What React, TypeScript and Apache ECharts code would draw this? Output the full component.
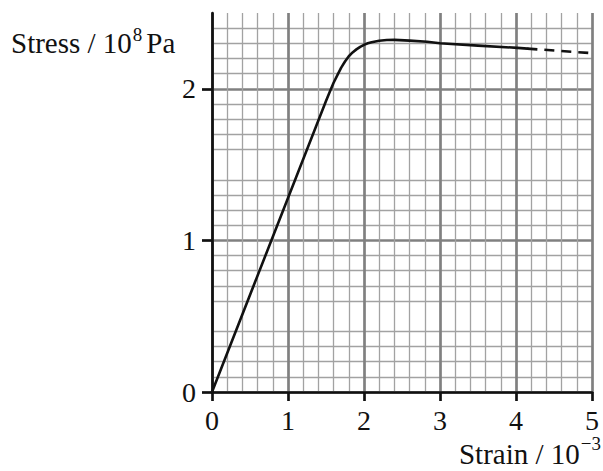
import React, { useEffect, useRef } from "react";
import * as echarts from "echarts";

// ---- data ----
const strainSolid = [0, 1.5, 1.55, 1.6, 1.65, 1.7, 1.75, 1.8, 1.85, 1.9, 1.95, 2.0, 2.05, 2.1, 2.2, 2.3, 2.4, 2.6, 2.83, 3.0, 3.5, 4.02, 4.15];
const stressSolid = [0, 1.92, 1.98, 2.04, 2.09, 2.14, 2.18, 2.215, 2.24, 2.26, 2.277, 2.29, 2.3, 2.307, 2.317, 2.322, 2.323, 2.318, 2.31, 2.3, 2.285, 2.27, 2.265];
const strainDashed = [4.15, 5];
const stressDashed = [2.265, 2.235];
const yTickValues = [0, 1, 2];
const xTickValues = [0, 1, 2, 3, 4, 5];

const FONT = '"Liberation Serif", "DejaVu Serif", serif';

export default function App() {
  const ref = useRef<HTMLDivElement>(null);
  useEffect(() => {
    if (!ref.current) return;
    const chart = echarts.init(ref.current, null, { renderer: "svg" });
    const solid = strainSolid.map((x, i) => [x, stressSolid[i]]);
    const dashed = strainDashed.map((x, i) => [x, stressDashed[i]]);
    const major = { color: "#808080", width: 2.7 };
    const minor = { color: "#a2a2a2", width: 1.3 };
    chart.setOption({
      animation: false,
      backgroundColor: "#ffffff",
      grid: { left: 212, right: 11, top: 13, bottom: 79, containLabel: false },
      xAxis: {
        type: "value",
        min: 0,
        max: 5,
        interval: 1,
        axisLine: { show: true, onZero: false, lineStyle: { color: "#111", width: 2.7 } },
        axisTick: { show: true, length: 9, inside: false, lineStyle: { color: "#111", width: 2.7 }, customValues: xTickValues },
        axisLabel: { show: true, margin: 14, color: "#111", fontSize: 28, fontFamily: FONT, customValues: xTickValues },
        splitLine: { show: true, lineStyle: major },
        minorTick: { show: false, splitNumber: 5 },
        minorSplitLine: { show: true, lineStyle: minor },
      },
      yAxis: {
        type: "value",
        min: 0,
        max: 2.5,
        interval: 0.5,
        axisLine: { show: true, onZero: false, lineStyle: { color: "#111", width: 2.7 } },
        axisTick: { show: true, length: 10, inside: false, lineStyle: { color: "#111", width: 2.7 }, customValues: yTickValues },
        axisLabel: { show: true, margin: 16, color: "#111", fontSize: 28, fontFamily: FONT, customValues: yTickValues },
        splitLine: { show: true, lineStyle: major },
        minorTick: { show: false, splitNumber: 5 },
        minorSplitLine: { show: true, lineStyle: minor },
      },
      series: [
        {
          type: "line",
          data: solid,
          smooth: false,
          showSymbol: false,
          symbol: "none",
          lineStyle: { color: "#111", width: 2.6, join: "round", cap: "round" },
          z: 5,
        },
        {
          type: "line",
          data: dashed,
          showSymbol: false,
          symbol: "none",
          lineStyle: { color: "#111", width: 2.6, type: [10, 7] },
          z: 5,
        },
      ],
      graphic: [
        {
          type: "text",
          left: 11,
          top: 25,
          style: {
            text: "{a|Stress / 10}{s|8}{a|Pa}",
            fill: "#111",
            rich: {
              a: { fontSize: 29, fontFamily: FONT, fill: "#111" },
              s: { fontSize: 19, fontFamily: FONT, fill: "#111", padding: [0, 4, 16, 1] },
            },
          },
        },
        {
          type: "text",
          right: 2,
          top: 434,
          style: {
            text: "{a|Strain / 10}{s|\u22123}",
            fill: "#111",
            rich: {
              a: { fontSize: 29, fontFamily: FONT, fill: "#111" },
              s: { fontSize: 19, fontFamily: FONT, fill: "#111", padding: [0, 0, 20, 1] },
            },
          },
        },
      ],
    });
    return () => chart.dispose();
  }, []);
  return (
    <div
      ref={ref}
      style={{ position: "fixed", left: 0, top: 0, width: 603, height: 471, background: "#fff" }}
    />
  );
}
